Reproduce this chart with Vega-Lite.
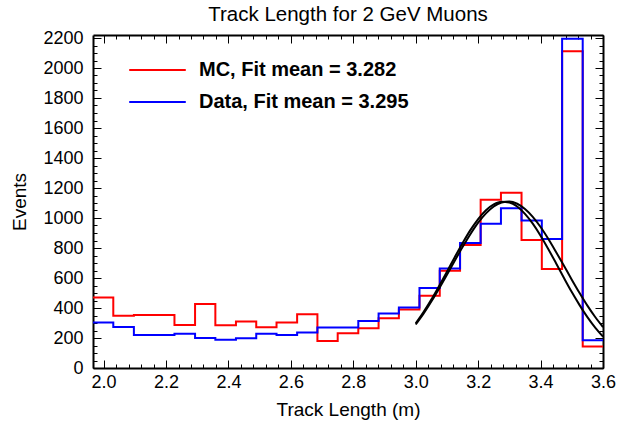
{
  "$schema": "https://vega.github.io/schema/vega-lite/v6.json",
  "width": 510,
  "height": 333,
  "autosize": {"type": "none"},
  "padding": {"left": 93, "top": 35, "right": 15, "bottom": 56},
  "background": "white",
  "title": {"text": "Track Length for 2 GeV Muons", "fontSize": 20.5, "fontWeight": "normal", "color": "black", "anchor": "middle", "baseline": "alphabetic", "offset": -12},
  "config": {
    "font": "Liberation Sans",
    "view": {"stroke": null},
    "axis": {"grid": false, "domainColor": "black", "tickColor": "black", "labelColor": "black", "titleColor": "black", "titleFontWeight": "normal", "domainWidth": 2, "tickWidth": 1}
  },
  "datasets": {
    "hist": [
      {"series": "MC, Fit mean = 3.282", "x": 1.966, "events": 470},
      {"series": "MC, Fit mean = 3.282", "x": 2.031, "events": 348},
      {"series": "MC, Fit mean = 3.282", "x": 2.097, "events": 354},
      {"series": "MC, Fit mean = 3.282", "x": 2.162, "events": 354},
      {"series": "MC, Fit mean = 3.282", "x": 2.227, "events": 287},
      {"series": "MC, Fit mean = 3.282", "x": 2.293, "events": 426},
      {"series": "MC, Fit mean = 3.282", "x": 2.358, "events": 285},
      {"series": "MC, Fit mean = 3.282", "x": 2.424, "events": 310},
      {"series": "MC, Fit mean = 3.282", "x": 2.489, "events": 272},
      {"series": "MC, Fit mean = 3.282", "x": 2.554, "events": 303},
      {"series": "MC, Fit mean = 3.282", "x": 2.620, "events": 359},
      {"series": "MC, Fit mean = 3.282", "x": 2.685, "events": 180},
      {"series": "MC, Fit mean = 3.282", "x": 2.750, "events": 232},
      {"series": "MC, Fit mean = 3.282", "x": 2.816, "events": 265},
      {"series": "MC, Fit mean = 3.282", "x": 2.881, "events": 332},
      {"series": "MC, Fit mean = 3.282", "x": 2.946, "events": 390},
      {"series": "MC, Fit mean = 3.282", "x": 3.012, "events": 481},
      {"series": "MC, Fit mean = 3.282", "x": 3.077, "events": 648},
      {"series": "MC, Fit mean = 3.282", "x": 3.142, "events": 820},
      {"series": "MC, Fit mean = 3.282", "x": 3.208, "events": 1121},
      {"series": "MC, Fit mean = 3.282", "x": 3.273, "events": 1168},
      {"series": "MC, Fit mean = 3.282", "x": 3.339, "events": 853},
      {"series": "MC, Fit mean = 3.282", "x": 3.404, "events": 660},
      {"series": "MC, Fit mean = 3.282", "x": 3.469, "events": 2112},
      {"series": "MC, Fit mean = 3.282", "x": 3.535, "events": 144},
      {"series": "MC, Fit mean = 3.282", "x": 3.600, "events": 144},
      {"series": "Data, Fit mean = 3.295", "x": 1.966, "events": 303},
      {"series": "Data, Fit mean = 3.295", "x": 2.031, "events": 274},
      {"series": "Data, Fit mean = 3.295", "x": 2.097, "events": 220},
      {"series": "Data, Fit mean = 3.295", "x": 2.162, "events": 220},
      {"series": "Data, Fit mean = 3.295", "x": 2.227, "events": 229},
      {"series": "Data, Fit mean = 3.295", "x": 2.293, "events": 200},
      {"series": "Data, Fit mean = 3.295", "x": 2.358, "events": 189},
      {"series": "Data, Fit mean = 3.295", "x": 2.424, "events": 198},
      {"series": "Data, Fit mean = 3.295", "x": 2.489, "events": 229},
      {"series": "Data, Fit mean = 3.295", "x": 2.554, "events": 220},
      {"series": "Data, Fit mean = 3.295", "x": 2.620, "events": 236},
      {"series": "Data, Fit mean = 3.295", "x": 2.685, "events": 270},
      {"series": "Data, Fit mean = 3.295", "x": 2.750, "events": 270},
      {"series": "Data, Fit mean = 3.295", "x": 2.816, "events": 314},
      {"series": "Data, Fit mean = 3.295", "x": 2.881, "events": 363},
      {"series": "Data, Fit mean = 3.295", "x": 2.946, "events": 403},
      {"series": "Data, Fit mean = 3.295", "x": 3.012, "events": 533},
      {"series": "Data, Fit mean = 3.295", "x": 3.077, "events": 664},
      {"series": "Data, Fit mean = 3.295", "x": 3.142, "events": 834},
      {"series": "Data, Fit mean = 3.295", "x": 3.208, "events": 961},
      {"series": "Data, Fit mean = 3.295", "x": 3.273, "events": 1065},
      {"series": "Data, Fit mean = 3.295", "x": 3.339, "events": 983},
      {"series": "Data, Fit mean = 3.295", "x": 3.404, "events": 860},
      {"series": "Data, Fit mean = 3.295", "x": 3.469, "events": 2195},
      {"series": "Data, Fit mean = 3.295", "x": 3.535, "events": 185},
      {"series": "Data, Fit mean = 3.295", "x": 3.600, "events": 185}
    ],
    "fit": [
      {"fit": "MC", "x": 3.000, "events": 298},
      {"fit": "MC", "x": 3.025, "events": 373},
      {"fit": "MC", "x": 3.050, "events": 456},
      {"fit": "MC", "x": 3.075, "events": 547},
      {"fit": "MC", "x": 3.100, "events": 642},
      {"fit": "MC", "x": 3.125, "events": 739},
      {"fit": "MC", "x": 3.150, "events": 832},
      {"fit": "MC", "x": 3.175, "events": 919},
      {"fit": "MC", "x": 3.200, "events": 993},
      {"fit": "MC", "x": 3.225, "events": 1052},
      {"fit": "MC", "x": 3.250, "events": 1091},
      {"fit": "MC", "x": 3.275, "events": 1109},
      {"fit": "MC", "x": 3.300, "events": 1104},
      {"fit": "MC", "x": 3.325, "events": 1077},
      {"fit": "MC", "x": 3.350, "events": 1028},
      {"fit": "MC", "x": 3.375, "events": 962},
      {"fit": "MC", "x": 3.400, "events": 882},
      {"fit": "MC", "x": 3.425, "events": 792},
      {"fit": "MC", "x": 3.450, "events": 697},
      {"fit": "MC", "x": 3.475, "events": 600},
      {"fit": "MC", "x": 3.500, "events": 506},
      {"fit": "MC", "x": 3.525, "events": 419},
      {"fit": "MC", "x": 3.550, "events": 339},
      {"fit": "MC", "x": 3.575, "events": 269},
      {"fit": "MC", "x": 3.600, "events": 209},
      {"fit": "Data", "x": 3.000, "events": 290},
      {"fit": "Data", "x": 3.025, "events": 362},
      {"fit": "Data", "x": 3.050, "events": 443},
      {"fit": "Data", "x": 3.075, "events": 530},
      {"fit": "Data", "x": 3.100, "events": 621},
      {"fit": "Data", "x": 3.125, "events": 715},
      {"fit": "Data", "x": 3.150, "events": 806},
      {"fit": "Data", "x": 3.175, "events": 892},
      {"fit": "Data", "x": 3.200, "events": 969},
      {"fit": "Data", "x": 3.225, "events": 1031},
      {"fit": "Data", "x": 3.250, "events": 1077},
      {"fit": "Data", "x": 3.275, "events": 1103},
      {"fit": "Data", "x": 3.300, "events": 1110},
      {"fit": "Data", "x": 3.325, "events": 1095},
      {"fit": "Data", "x": 3.350, "events": 1060},
      {"fit": "Data", "x": 3.375, "events": 1008},
      {"fit": "Data", "x": 3.400, "events": 940},
      {"fit": "Data", "x": 3.425, "events": 860},
      {"fit": "Data", "x": 3.450, "events": 772},
      {"fit": "Data", "x": 3.475, "events": 681},
      {"fit": "Data", "x": 3.500, "events": 589},
      {"fit": "Data", "x": 3.525, "events": 500},
      {"fit": "Data", "x": 3.550, "events": 416},
      {"fit": "Data", "x": 3.575, "events": 340},
      {"fit": "Data", "x": 3.600, "events": 273}
    ]
  },
  "layer": [
    {
      "data": {"name": "hist"},
      "transform": [{"filter": "datum.series === 'MC, Fit mean = 3.282'"}],
      "mark": {"type": "line", "interpolate": "step-after", "strokeWidth": 2},
      "encoding": {
        "x": {"field": "x", "type": "quantitative", "scale": {"domain": [1.966, 3.6], "nice": false, "zero": false},
          "axis": {"orient": "bottom", "values": [2.0, 2.2, 2.4, 2.6, 2.8, 3.0, 3.2, 3.4, 3.6], "format": ".1f", "tickSize": -8, "labelPadding": 13, "labelFontSize": 18, "labelFlush": false, "labelOverlap": false, "title": "Track Length (m)", "titleFontSize": 19, "titlePadding": 9}},
        "y": {"field": "events", "type": "quantitative", "scale": {"domain": [0, 2220], "nice": false, "zero": true},
          "axis": {"orient": "left", "values": [0, 200, 400, 600, 800, 1000, 1200, 1400, 1600, 1800, 2000, 2200], "format": "d", "tickSize": -8, "labelPadding": 18, "labelFontSize": 18, "labelOverlap": false, "title": "Events", "titleFontSize": 19, "titlePadding": 13}},
        "color": {"field": "series", "type": "nominal",
          "scale": {"domain": ["MC, Fit mean = 3.282", "Data, Fit mean = 3.295"], "range": ["#ff0000", "#0000ff"]},
          "legend": {"orient": "none", "legendX": 35, "legendY": 19, "title": null, "symbolType": "stroke", "symbolSize": 3200, "symbolStrokeWidth": 2, "labelFontSize": 20, "labelFontWeight": "bold", "labelColor": "black", "labelOffset": 12, "clipHeight": 32, "rowPadding": 0, "padding": 0, "labelLimit": 400}}
      }
    },
    {
      "data": {"name": "hist"},
      "transform": [{"filter": "datum.series === 'Data, Fit mean = 3.295'"}],
      "mark": {"type": "line", "interpolate": "step-after", "strokeWidth": 2},
      "encoding": {
        "x": {"field": "x", "type": "quantitative", "scale": {"domain": [1.966, 3.6], "nice": false, "zero": false},
          "axis": {"orient": "top", "values": [2.0, 2.2, 2.4, 2.6, 2.8, 3.0, 3.2, 3.4, 3.6], "tickSize": -8, "labels": false, "title": null}},
        "y": {"field": "events", "type": "quantitative", "scale": {"domain": [0, 2220], "nice": false, "zero": true},
          "axis": {"orient": "right", "values": [0, 200, 400, 600, 800, 1000, 1200, 1400, 1600, 1800, 2000, 2200], "tickSize": -8, "labels": false, "title": null}},
        "color": {"field": "series", "type": "nominal"}
      }
    },
    {
      "data": {"name": "fit"},
      "mark": {"type": "line", "interpolate": "monotone", "strokeWidth": 2, "color": "black"},
      "encoding": {
        "x": {"field": "x", "type": "quantitative", "scale": {"domain": [1.966, 3.6], "nice": false, "zero": false},
          "axis": {"orient": "bottom", "values": [2.0, 2.04, 2.08, 2.12, 2.16, 2.2, 2.24, 2.28, 2.32, 2.36, 2.4, 2.44, 2.48, 2.52, 2.56, 2.6, 2.64, 2.68, 2.72, 2.76, 2.8, 2.84, 2.88, 2.92, 2.96, 3.0, 3.04, 3.08, 3.12, 3.16, 3.2, 3.24, 3.28, 3.32, 3.36, 3.4, 3.44, 3.48, 3.52, 3.56, 3.6], "tickSize": -4, "labels": false, "domain": false, "title": null}},
        "y": {"field": "events", "type": "quantitative", "scale": {"domain": [0, 2220], "nice": false, "zero": true},
          "axis": {"orient": "left", "values": [0, 50, 100, 150, 200, 250, 300, 350, 400, 450, 500, 550, 600, 650, 700, 750, 800, 850, 900, 950, 1000, 1050, 1100, 1150, 1200, 1250, 1300, 1350, 1400, 1450, 1500, 1550, 1600, 1650, 1700, 1750, 1800, 1850, 1900, 1950, 2000, 2050, 2100, 2150, 2200], "tickSize": -4, "labels": false, "domain": false, "title": null}},
        "detail": {"field": "fit", "type": "nominal"}
      }
    },
    {
      "data": {"name": "fit"},
      "mark": {"type": "point", "opacity": 0},
      "encoding": {
        "x": {"field": "x", "type": "quantitative", "scale": {"domain": [1.966, 3.6], "nice": false, "zero": false},
          "axis": {"orient": "top", "values": [2.0, 2.04, 2.08, 2.12, 2.16, 2.2, 2.24, 2.28, 2.32, 2.36, 2.4, 2.44, 2.48, 2.52, 2.56, 2.6, 2.64, 2.68, 2.72, 2.76, 2.8, 2.84, 2.88, 2.92, 2.96, 3.0, 3.04, 3.08, 3.12, 3.16, 3.2, 3.24, 3.28, 3.32, 3.36, 3.4, 3.44, 3.48, 3.52, 3.56, 3.6], "tickSize": -4, "labels": false, "domain": false, "title": null}},
        "y": {"field": "events", "type": "quantitative", "scale": {"domain": [0, 2220], "nice": false, "zero": true},
          "axis": {"orient": "right", "values": [0, 50, 100, 150, 200, 250, 300, 350, 400, 450, 500, 550, 600, 650, 700, 750, 800, 850, 900, 950, 1000, 1050, 1100, 1150, 1200, 1250, 1300, 1350, 1400, 1450, 1500, 1550, 1600, 1650, 1700, 1750, 1800, 1850, 1900, 1950, 2000, 2050, 2100, 2150, 2200], "tickSize": -4, "labels": false, "domain": false, "title": null}}
      }
    }
  ],
  "resolve": {"scale": {"x": "independent", "y": "independent"}, "axis": {"x": "independent", "y": "independent"}}
}
